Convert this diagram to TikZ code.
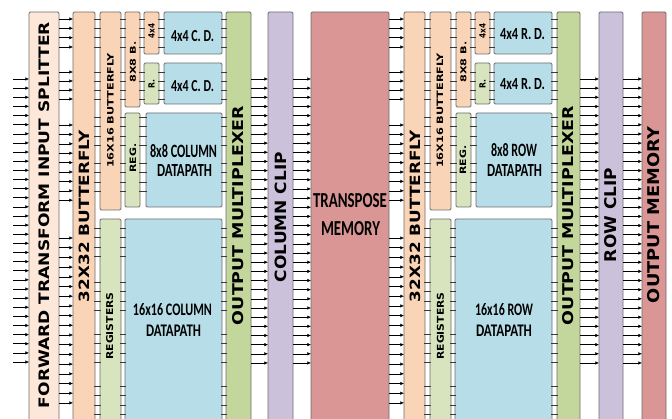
\documentclass[tikz,border=0pt]{standalone}
\usepackage{fontspec}
\setmainfont{Carlito}
\newfontfamily\wideb{DejaVu Sans}
\usetikzlibrary{arrows.meta,fit}
\definecolor{cSplit}{HTML}{FCE7D9}
\definecolor{cPeach}{HTML}{FAD4B6}
\definecolor{cGreenL}{HTML}{D7E4BD}
\definecolor{cGreen}{HTML}{C3D69B}
\definecolor{cBlue}{HTML}{B7DEE8}
\definecolor{cLav}{HTML}{CCC1DA}
\definecolor{cRed}{HTML}{D99694}
\definecolor{cBorder}{HTML}{6E6E6E}
\definecolor{cTick}{HTML}{3A3A3A}
\newcommand{\vl}[3]{\resizebox{#1pt}{#2pt}{\wideb\bfseries #3}}
\newcommand{\hl}[3]{\resizebox{#1pt}{#2pt}{\bfseries #3}}
\newcommand{\mybox}[6]{\node[blk, fill=#2, fit={(#3,#4) (#5,#6)}] (#1) {};}
\newcommand{\tk}[3]{\foreach \y in #3 {\draw[tickline] (#1.east |- 0,\y) -- (#2.west |- 0,\y);}}
\newcommand{\ar}[3]{\foreach \y in #3 {\draw[arr] (#1.east |- 0,\y) -- (#2.west |- 0,\y);}}
\newcommand{\fullbus}[2]{\foreach \k in {0,...,31} {\pgfmathsetmacro\y{79+9.16*\k}\draw[arr] (#1.east |- 0,\y) -- (#2.west |- 0,\y);}}
\def\tA{19,28.3,37.7,47}
\def\tB{72,81,90,99}
\def\tC{117,126.5,136,145.5,163,172.5,182,191.5}
\def\tD{228,237.5,247,256.5,282,291.5,301,310.5,334,343.5,353,362.5,386,395.5,405,414.5}
\def\aBus{19,28.3,37.7,47,72,81,90,99,125,134.4,143.8,153.2,162.6,172,181.4,190.8,200.2,238,247.7,257.4,267.1,276.8,286.5,296.2,305.9,315.6,325.3,335,344.7,354.4,364.1,373.8,383.5,393.2,402.9}
\tikzset{
  blk/.style={draw=cBorder, line width=0.8pt, rounded corners=1.2pt, inner sep=0pt, outer sep=0pt},
  arr/.style={-{Latex[length=3.6pt,width=3.4pt]}, line width=0.55pt, black},
  tickline/.style={line width=0.6pt, cTick, shorten <=-1pt, shorten >=-1pt},
  lbl/.style={inner sep=0pt, outer sep=0pt, text=black},
}
\begin{document}
\begin{tikzpicture}[x=1pt,y=-1pt]
\clip (0,0) rectangle (672,419);
\fill[white] (0,0) rectangle (672,419);
% ---------- column half ----------
\mybox{spl}{cSplit}{29}{12}{59}{430}
\mybox{bfa}{cPeach}{73}{12}{95}{430}
\mybox{bfb}{cPeach}{100}{12}{121}{210}
\mybox{rga}{cGreenL}{100}{219}{121}{430}
\mybox{bca}{cPeach}{125}{12}{140}{107}
\mybox{fpa}{cPeach}{144}{12}{159}{54}
\mybox{rra}{cGreenL}{144}{63}{159}{104}
\mybox{cda}{cBlue}{164}{12}{222}{54}
\mybox{cdb}{cBlue}{164}{63}{222}{104}
\mybox{rgb}{cGreenL}{125}{113}{140}{207}
\mybox{dpa}{cBlue}{146}{113}{222}{207}
\mybox{dpb}{cBlue}{125}{219}{222}{430}
\mybox{mxa}{cGreen}{226}{12}{251}{430}
\mybox{clc}{cLav}{268}{12}{293}{430}
\mybox{tpm}{cRed}{311}{12}{389}{430}
% ---------- row half ----------
\mybox{bfc}{cPeach}{404}{12}{425}{430}
\mybox{bfd}{cPeach}{430}{12}{451}{210}
\mybox{rgc}{cGreenL}{430}{219}{451}{430}
\mybox{bcb}{cPeach}{456}{12}{471}{107}
\mybox{fpb}{cPeach}{475}{12}{490}{54}
\mybox{rrb}{cGreenL}{475}{63}{490}{104}
\mybox{rda}{cBlue}{494}{12}{552}{54}
\mybox{rdb}{cBlue}{494}{63}{552}{104}
\mybox{rgd}{cGreenL}{456}{113}{471}{207}
\mybox{dpc}{cBlue}{476}{113}{552}{207}
\mybox{dpd}{cBlue}{455}{219}{552}{430}
\mybox{mxb}{cGreen}{557}{12}{580}{430}
\mybox{rcl}{cLav}{599}{12}{623}{430}
\mybox{omm}{cRed}{642}{12}{666}{430}
% ---------- input arrows ----------
\coordinate (inL) at (13,0);
\foreach \k in {0,...,31} {\pgfmathsetmacro\y{79+9.13*\k}\draw[arr] (inL |- 0,\y) -- (spl.west |- 0,\y);}
\ar{spl}{bfa}{\aBus}
\ar{tpm}{bfc}{\aBus}
\fullbus{mxa}{clc}
\fullbus{clc}{tpm}
\fullbus{mxb}{rcl}
\fullbus{rcl}{omm}
% ---------- ticks, column half ----------
\tk{bfa}{bfb}{\tA}\tk{bfa}{bfb}{\tB}\tk{bfa}{bfb}{\tC}
\tk{bfa}{rga}{\tD}
\tk{bfb}{bca}{\tA}\tk{bfb}{bca}{\tB}
\tk{bfb}{rgb}{\tC}
\tk{rga}{dpb}{\tD}
\tk{bca}{fpa}{\tA}\tk{bca}{rra}{\tB}
\tk{fpa}{cda}{\tA}\tk{rra}{cdb}{\tB}
\tk{rgb}{dpa}{\tC}
\tk{cda}{mxa}{\tA}\tk{cdb}{mxa}{\tB}\tk{dpa}{mxa}{\tC}\tk{dpb}{mxa}{\tD}
% ---------- ticks, row half ----------
\tk{bfc}{bfd}{\tA}\tk{bfc}{bfd}{\tB}\tk{bfc}{bfd}{\tC}
\tk{bfc}{rgc}{\tD}
\tk{bfd}{bcb}{\tA}\tk{bfd}{bcb}{\tB}
\tk{bfd}{rgd}{\tC}
\tk{rgc}{dpd}{\tD}
\tk{bcb}{fpb}{\tA}\tk{bcb}{rrb}{\tB}
\tk{fpb}{rda}{\tA}\tk{rrb}{rdb}{\tB}
\tk{rgd}{dpc}{\tC}
\tk{rda}{mxb}{\tA}\tk{rdb}{mxb}{\tB}\tk{dpc}{mxb}{\tC}\tk{dpd}{mxb}{\tD}
% ---------- labels, column half ----------
\node[lbl, rotate=90] (lspl) at (44.5,215) {\vl{386}{10.7}{FORWARD TRANSFORM INPUT SPLITTER}};
\node[lbl, rotate=90] (lbfa) at (84.7,216) {\vl{172}{10.5}{32X32 BUTTERFLY}};
\node[lbl, rotate=90] (lbfb) at (110.5,110.5) {\vl{115}{6.5}{16X16 BUTTERFLY}};
\node[lbl, rotate=90] (lbca) at (133,62) {\vl{41}{6}{8X8 B.}};
\node[lbl, rotate=90] (lfpa) at (151.5,31) {\vl{15}{6.2}{4x4}};
\node[lbl, rotate=90] (lrra) at (151.5,84) {\vl{9}{6.2}{R.}};
\node[lbl] (lcda) at (192.5,36) {\hl{43}{11}{4x4 C. D.}};
\node[lbl] (lcdb) at (192.5,86) {\hl{43}{11}{4x4 C. D.}};
\node[lbl, rotate=90] (lrgb) at (133,158) {\vl{29}{6.5}{REG.}};
\node[lbl] (ldpa1) at (183.5,151) {\hl{67}{13}{8x8 COLUMN}};
\node[lbl] (ldpa2) at (184.5,171) {\hl{55}{12}{DATAPATH}};
\node[lbl, rotate=90] (lrga) at (109.7,326) {\vl{67}{7}{REGISTERS}};
\node[lbl] (ldpb1) at (172.5,310) {\hl{79}{12}{16x16 COLUMN}};
\node[lbl] (ldpb2) at (173.5,330.5) {\hl{55}{11.5}{DATAPATH}};
\node[lbl, rotate=90] (lmxa) at (238.5,215.5) {\vl{219}{11}{OUTPUT MULTIPLEXER}};
\node[lbl, rotate=90] (lclc) at (281,217) {\vl{130}{11.5}{COLUMN CLIP}};
\node[lbl] (ltpm1) at (350,201) {\hl{74}{14}{TRANSPOSE}};
\node[lbl] (ltpm2) at (350.5,229) {\hl{59}{14}{MEMORY}};
% ---------- labels, row half ----------
\node[lbl, rotate=90] (lbfc) at (415.7,216) {\vl{172}{10.5}{32X32 BUTTERFLY}};
\node[lbl, rotate=90] (lbfd) at (440,110.5) {\vl{115}{6.5}{16X16 BUTTERFLY}};
\node[lbl, rotate=90] (lbcb) at (463.5,62) {\vl{41}{6}{8X8 B.}};
\node[lbl, rotate=90] (lfpb) at (482.5,31) {\vl{15}{6.2}{4x4}};
\node[lbl, rotate=90] (lrrb) at (482.5,84) {\vl{9}{6.2}{R.}};
\node[lbl] (lrda) at (522.5,34) {\hl{45}{11}{4x4 R. D.}};
\node[lbl] (lrdb) at (522.5,84) {\hl{45}{11}{4x4 R. D.}};
\node[lbl, rotate=90] (lrgd) at (463,160) {\vl{29}{6.5}{REG.}};
\node[lbl] (ldpc1) at (514,150) {\hl{46}{13}{8x8 ROW}};
\node[lbl] (ldpc2) at (514.5,171) {\hl{55}{12}{DATAPATH}};
\node[lbl, rotate=90] (lrgc) at (440.5,326) {\vl{67}{7}{REGISTERS}};
\node[lbl] (ldpd1) at (504,310) {\hl{58}{12}{16x16 ROW}};
\node[lbl] (ldpd2) at (504,331) {\hl{56}{11.5}{DATAPATH}};
\node[lbl, rotate=90] (lmxb) at (568.5,215.5) {\vl{219}{11}{OUTPUT MULTIPLEXER}};
\node[lbl, rotate=90] (lrcl) at (611,215) {\vl{94}{12}{ROW CLIP}};
\node[lbl, rotate=90] (lomm) at (654,215) {\vl{176}{12}{OUTPUT MEMORY}};
\end{tikzpicture}
\end{document}
